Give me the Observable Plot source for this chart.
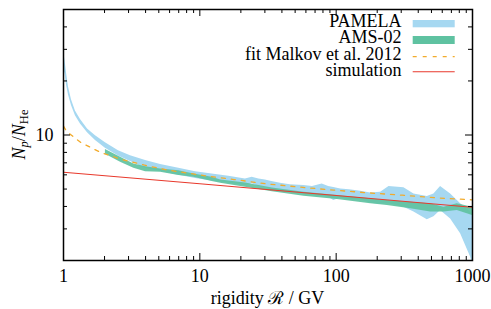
<!DOCTYPE html>
<html><head><meta charset="utf-8">
<script src="https://cdn.jsdelivr.net/npm/d3@7"></script>
<script src="https://cdn.jsdelivr.net/npm/@observablehq/plot@0.6"></script>
<style>body{margin:0;background:#fff} #chart{width:491px;height:309px}</style>
</head><body><div id="chart"></div>
<script>
// PAMELA band (rigidity in GV, lower / upper edge of Np/NHe)
const pamelaR  = [1.0, 1.026, 1.052, 1.088, 1.144, 1.223, 1.332, 1.50, 1.716, 2.03, 2.53, 3.10, 4.0, 5.15, 7.01, 9.3, 12.3, 16.3, 21.6, 24.2, 27.1, 30.3, 33, 39, 46, 58, 67, 79, 88, 96, 108, 125, 151, 179, 212, 244, 314, 372, 466, 521, 583, 691, 818, 968, 1000];
const pamelaHi = [29.4, 25.9, 22.2, 18.5, 15.7, 13.6, 12.2, 10.8, 9.91, 9.06, 8.18, 7.67, 7.20, 6.84, 6.52, 6.25, 6.07, 5.89, 5.69, 5.81, 5.69, 5.62, 5.53, 5.38, 5.29, 5.23, 5.16, 5.34, 5.16, 5.10, 5.01, 4.96, 4.86, 4.76, 4.80, 5.16, 5.08, 4.70, 4.55, 4.70, 5.16, 4.70, 4.14, 3.72, 3.56];
const pamelaLo = [23.4, 21.9, 19.0, 16.7, 14.6, 12.8, 11.5, 10.3, 9.32, 8.44, 7.63, 7.11, 6.50, 6.26, 5.96, 5.72, 5.55, 5.38, 5.21, 5.36, 5.16, 5.10, 4.95, 4.85, 4.80, 4.70, 4.60, 4.54, 4.50, 4.32, 4.46, 4.35, 4.35, 4.17, 4.12, 4.14, 3.96, 3.72, 3.37, 3.50, 3.80, 3.41, 2.82, 2.09, 1.90];
// AMS-02 band
const amsR  = [2.03, 2.62, 3.28, 4.0, 5.15, 7.01, 9.03, 12.3, 14.2, 21.6, 34, 58, 102, 179, 237, 352, 493, 617, 773, 1000];
const amsHi = [8.3, 7.51, 6.90, 6.65, 6.47, 6.33, 6.07, 5.81, 5.62, 5.41, 5.06, 4.80, 4.60, 4.41, 4.32, 4.22, 4.14, 3.96, 4.14, 3.96];
const amsLo = [7.8, 7.04, 6.52, 6.25, 6.20, 5.94, 5.81, 5.50, 5.38, 5.11, 4.83, 4.56, 4.37, 4.14, 4.05, 3.88, 3.72, 3.72, 3.80, 3.56];
// fit Malkov et al. 2012
const fitR = [1, 1.06, 1.158, 1.333, 1.578, 1.868, 2.70, 3.88, 5.60, 8.30, 12.0, 17.8, 31.2, 54.8, 96.2, 174, 305, 536, 968, 1000];
const fitV = [11.2, 10.4, 9.91, 9.10, 8.53, 8.00, 7.29, 6.81, 6.41, 6.12, 5.87, 5.65, 5.34, 5.12, 4.93, 4.76, 4.62, 4.47, 4.36, 4.35];
// simulation
const simR = [1, 10, 100, 1000];
const simV = [6.2, 5.35, 4.6, 3.96];
// ticks
const xMajor = [1, 10, 100, 1000];
const xMinor = [2,3,4,5,6,7,8,9,20,30,40,50,60,70,80,90,200,300,400,500,600,700,800,900];
const yMajor = [10];
const yMinor = [2,3,4,5,6,7,8,9,20,30,40];
const legendLabels = ["PAMELA", "AMS-02", "fit Malkov et al. 2012", "simulation"];

const colBlue = "#a6d8f1", colGreen = "#5fc2a1", colOrange = "#f2ab2c", colRed = "#e8392c";
const W = 491, H = 309, mL = 63, mR = 19, mT = 9, mB = 49;
const innerH = H - mT - mB;
const font = "'Liberation Serif', 'Times New Roman', serif";
const fs = 18;

const pamela = pamelaR.map((r, i) => ({r, lo: pamelaLo[i], hi: pamelaHi[i]}));
const ams = amsR.map((r, i) => ({r, lo: amsLo[i], hi: amsHi[i]}));
const fit = fitR.map((r, i) => ({r, v: fitV[i]}));
const sim = simR.map((r, i) => ({r, v: simV[i]}));

const chart = Plot.plot({
  width: W, height: H,
  marginLeft: mL, marginRight: mR, marginTop: mT, marginBottom: mB,
  style: {fontFamily: font, fontSize: fs + "px", background: "white", color: "black"},
  x: {type: "log", domain: [1, 1000]},
  y: {type: "log", domain: [2, 50]},
  marks: [
    Plot.areaY(pamela, {x: "r", y1: "lo", y2: "hi", fill: colBlue, clip: true}),
    Plot.areaY(ams, {x: "r", y1: "lo", y2: "hi", fill: colGreen, fillOpacity: 0.92, clip: true}),
    Plot.line(fit, {x: "r", y: "v", stroke: colOrange, strokeWidth: 1.3, strokeDasharray: "4,6", clip: true}),
    Plot.line(sim, {x: "r", y: "v", stroke: colRed, strokeWidth: 1.1, clip: true}),
    Plot.tickX(xMajor, {x: d => d, insetTop: innerH - 7, stroke: "black"}),
    Plot.tickX(xMajor, {x: d => d, insetBottom: innerH - 7, stroke: "black"}),
    Plot.tickX(xMinor, {x: d => d, insetTop: innerH - 4, stroke: "black"}),
    Plot.tickX(xMinor, {x: d => d, insetBottom: innerH - 4, stroke: "black"}),
    Plot.tickY(yMajor, {y: d => d, insetRight: (W - mL - mR) - 7, stroke: "black"}),
    Plot.tickY(yMajor, {y: d => d, insetLeft: (W - mL - mR) - 7, stroke: "black"}),
    Plot.tickY(yMinor, {y: d => d, insetRight: (W - mL - mR) - 4, stroke: "black"}),
    Plot.tickY(yMinor, {y: d => d, insetLeft: (W - mL - mR) - 4, stroke: "black"}),
    Plot.axisX({ticks: xMajor, tickSize: 0, tickPadding: 9, tickFormat: d => String(d), label: null, fontSize: fs}),
    Plot.axisY({ticks: yMajor, tickSize: 0, tickPadding: 10, tickFormat: d => String(d), label: null, fontSize: fs}),
    Plot.frame({stroke: "black", strokeWidth: 1.5})
  ]
});
document.getElementById("chart").appendChild(chart);

const svg = d3.select(chart);
// x title
svg.append("text").attr("x", (mL + W - mR) / 2).attr("y", 304)
  .attr("text-anchor", "middle").style("font-family", font).attr("font-size", fs)
  .text("rigidity ℛ / GV");
// y title
const yt = svg.append("text").attr("transform", `translate(25,${mT + innerH / 2}) rotate(-90)`)
  .attr("text-anchor", "middle").style("font-family", font).attr("font-size", fs);
yt.append("tspan").attr("font-style", "italic").text("N");
yt.append("tspan").attr("font-style", "italic").attr("font-size", 12.5).attr("dy", 3).text("p");
yt.append("tspan").attr("dy", -3).text("/");
yt.append("tspan").attr("font-style", "italic").text("N");
yt.append("tspan").attr("font-size", 12.5).attr("dy", 3).text("He");

// legend
const lg = svg.append("g").style("font-family", font).attr("font-size", fs);
const baselines = [26.7, 42.7, 59.5, 76];
legendLabels.forEach((t, i) => {
  lg.append("text").attr("x", 401.5).attr("y", baselines[i]).attr("text-anchor", "end").text(t);
});
lg.append("rect").attr("x", 412.7).attr("y", 20).attr("width", 42).attr("height", 7.3).attr("fill", colBlue);
lg.append("rect").attr("x", 412.7).attr("y", 36).attr("width", 42).attr("height", 8).attr("fill", colGreen);
lg.append("line").attr("x1", 412.7).attr("x2", 454.7).attr("y1", 56.7).attr("y2", 56.7)
  .attr("stroke", colOrange).attr("stroke-width", 1.3).attr("stroke-dasharray", "4,6");
lg.append("line").attr("x1", 412.7).attr("x2", 454.7).attr("y1", 71.7).attr("y2", 71.7)
  .attr("stroke", colRed).attr("stroke-width", 1.1);
</script>
</body></html>
